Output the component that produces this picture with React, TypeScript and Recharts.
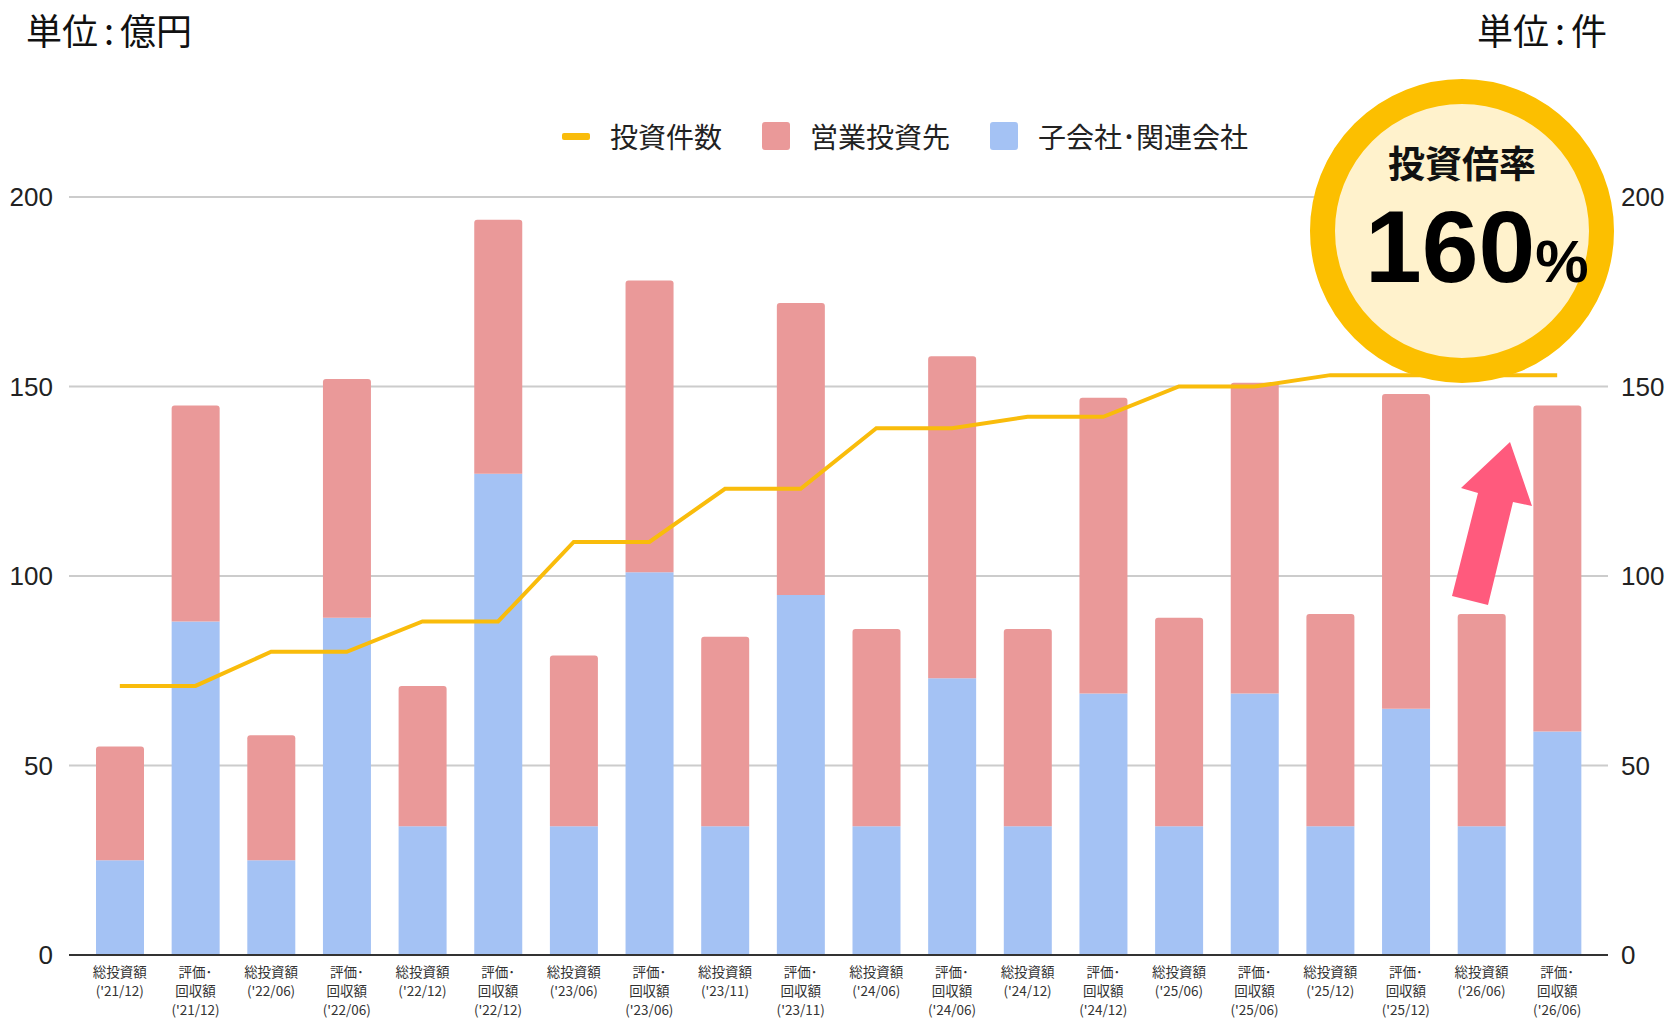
import React from 'react';
import { ComposedChart, Bar, Line, XAxis, YAxis, CartesianGrid } from 'recharts';

// categories (x axis), two-row / three-row labels
const categories = [
  "総投資額\n('21/12)", "評価･\n回収額\n('21/12)",
  "総投資額\n('22/06)", "評価･\n回収額\n('22/06)",
  "総投資額\n('22/12)", "評価･\n回収額\n('22/12)",
  "総投資額\n('23/06)", "評価･\n回収額\n('23/06)",
  "総投資額\n('23/11)", "評価･\n回収額\n('23/11)",
  "総投資額\n('24/06)", "評価･\n回収額\n('24/06)",
  "総投資額\n('24/12)", "評価･\n回収額\n('24/12)",
  "総投資額\n('25/06)", "評価･\n回収額\n('25/06)",
  "総投資額\n('25/12)", "評価･\n回収額\n('25/12)",
  "総投資額\n('26/06)", "評価･\n回収額\n('26/06)",
];

// 子会社・関連会社 (億円)
const subsidiaries = [25, 88, 25, 89, 34, 127, 34, 101, 34, 95, 34, 73, 34, 69, 34, 69, 34, 65, 34, 59];
// 営業投資先 (億円)
const operating = [30, 57, 33, 63, 37, 67, 45, 77, 50, 77, 52, 85, 52, 78, 55, 82, 56, 83, 56, 86];
// 投資件数 (件)
const counts = [71, 71, 80, 80, 88, 88, 109, 109, 123, 123, 139, 139, 142, 142, 150, 150, 153, 153, 153, 153];

const yTicks = [0, 50, 100, 150, 200];

const legendItems = [
  { label: '投資件数', color: '#f9bc0b', kind: 'line' },
  { label: '営業投資先', color: '#ea9999', kind: 'box' },
  { label: '子会社･関連会社', color: '#a4c2f4', kind: 'box' },
];

const data = categories.map((name, i) => ({
  name,
  sub: subsidiaries[i],
  op: operating[i],
  count: counts[i],
}));

const JP = '"Noto Sans CJK JP", "Noto Sans", sans-serif';
const NUM = '"Liberation Sans", Arial, sans-serif';

const XTick = (props: any) => {
  const { x, y, payload } = props;
  const lines = String(payload.value).split('\n');
  return (
    <text x={x} y={y} textAnchor="middle" fontSize={13.5} fill="#333" fontFamily={JP}>
      {lines.map((l, i) => (
        <tspan key={i} x={x} dy={i === 0 ? 14 : 19}>{l}</tspan>
      ))}
    </text>
  );
};

const LegendBox = () => (
  <div style={{ position: 'absolute', left: 562, top: 116, display: 'flex', alignItems: 'center', fontFamily: JP, fontSize: 28, color: '#222', lineHeight: '40px' }}>
    {legendItems.map((it, i) => (
      <div key={it.label} style={{ display: 'flex', alignItems: 'center', marginLeft: i === 0 ? 0 : 40 }}>
        {it.kind === 'line'
          ? <div style={{ width: 28, height: 7, background: it.color, borderRadius: 2 }} />
          : <div style={{ width: 28, height: 28, background: it.color, borderRadius: 3 }} />}
        <span style={{ marginLeft: 20 }}>{it.label}</span>
      </div>
    ))}
  </div>
);

export default function App() {
  return (
    <div style={{ position: 'absolute', left: 0, top: 0, width: 1672, height: 1020, background: '#fff', overflow: 'hidden' }}>
      <ComposedChart width={1672} height={1020} data={data} margin={{ top: 197, right: 0, bottom: 0, left: 0 }}>
        <CartesianGrid yAxisId="left" vertical={false} stroke="#cccccc" strokeWidth={2} />
        <XAxis
          dataKey="name"
          interval={0}
          height={65}
          padding={{ left: 13, right: 13 }}
          tickLine={false}
          axisLine={{ stroke: '#333', strokeWidth: 2 }}
          tick={<XTick />}
        />
        <YAxis
          yAxisId="left"
          width={69}
          domain={[0, 200]}
          ticks={yTicks}
          axisLine={false}
          tickLine={false}
          tickMargin={10}
          tick={{ fontSize: 26, fill: '#222', fontFamily: NUM }}
        />
        <YAxis
          yAxisId="right"
          orientation="right"
          width={64}
          domain={[0, 200]}
          ticks={yTicks}
          axisLine={false}
          tickLine={false}
          tickMargin={7}
          tick={{ fontSize: 26, fill: '#222', fontFamily: NUM, textAnchor: 'start' }}
        />
        <Bar yAxisId="left" dataKey="sub" stackId="a" fill="#a4c2f4" barSize={48} isAnimationActive={false} />
        <Bar yAxisId="left" dataKey="op" stackId="a" fill="#ea9999" barSize={48} radius={[3, 3, 0, 0]} isAnimationActive={false} />
        <Line yAxisId="right" type="linear" dataKey="count" stroke="#f9bc0b" strokeWidth={4} dot={false} activeDot={false} isAnimationActive={false} />
      </ComposedChart>

      <div style={{ position: 'absolute', left: 26, top: 11, fontFamily: JP, fontSize: 36, lineHeight: 1, color: '#111' }}>
        単位<span style={{ margin: '0 6px' }}>:</span>億円
      </div>
      <div style={{ position: 'absolute', left: 1477, top: 11, fontFamily: JP, fontSize: 36, lineHeight: 1, color: '#111' }}>
        単位<span style={{ margin: '0 6px' }}>:</span>件
      </div>

      <LegendBox />

      <svg width={1672} height={1020} style={{ position: 'absolute', left: 0, top: 0, pointerEvents: 'none' }}>
        <circle cx={1462} cy={231} r={139.5} fill="#fff2cc" stroke="#fcbf00" strokeWidth={25} />
        <text x={1462} y={178} textAnchor="middle" fontFamily={JP} fontWeight={700} fontSize={37} fill="#111">投資倍率</text>
        <text x={1365} y={282} fontFamily={NUM} fontWeight={700} fontSize={102} fill="#000">
          160<tspan fontSize={60}>%</tspan>
        </text>
        <polygon points="1510,442 1532,506 1513,502 1488,605 1452,596 1478,493 1461,488" fill="#ff5a7d" />
      </svg>
    </div>
  );
}
